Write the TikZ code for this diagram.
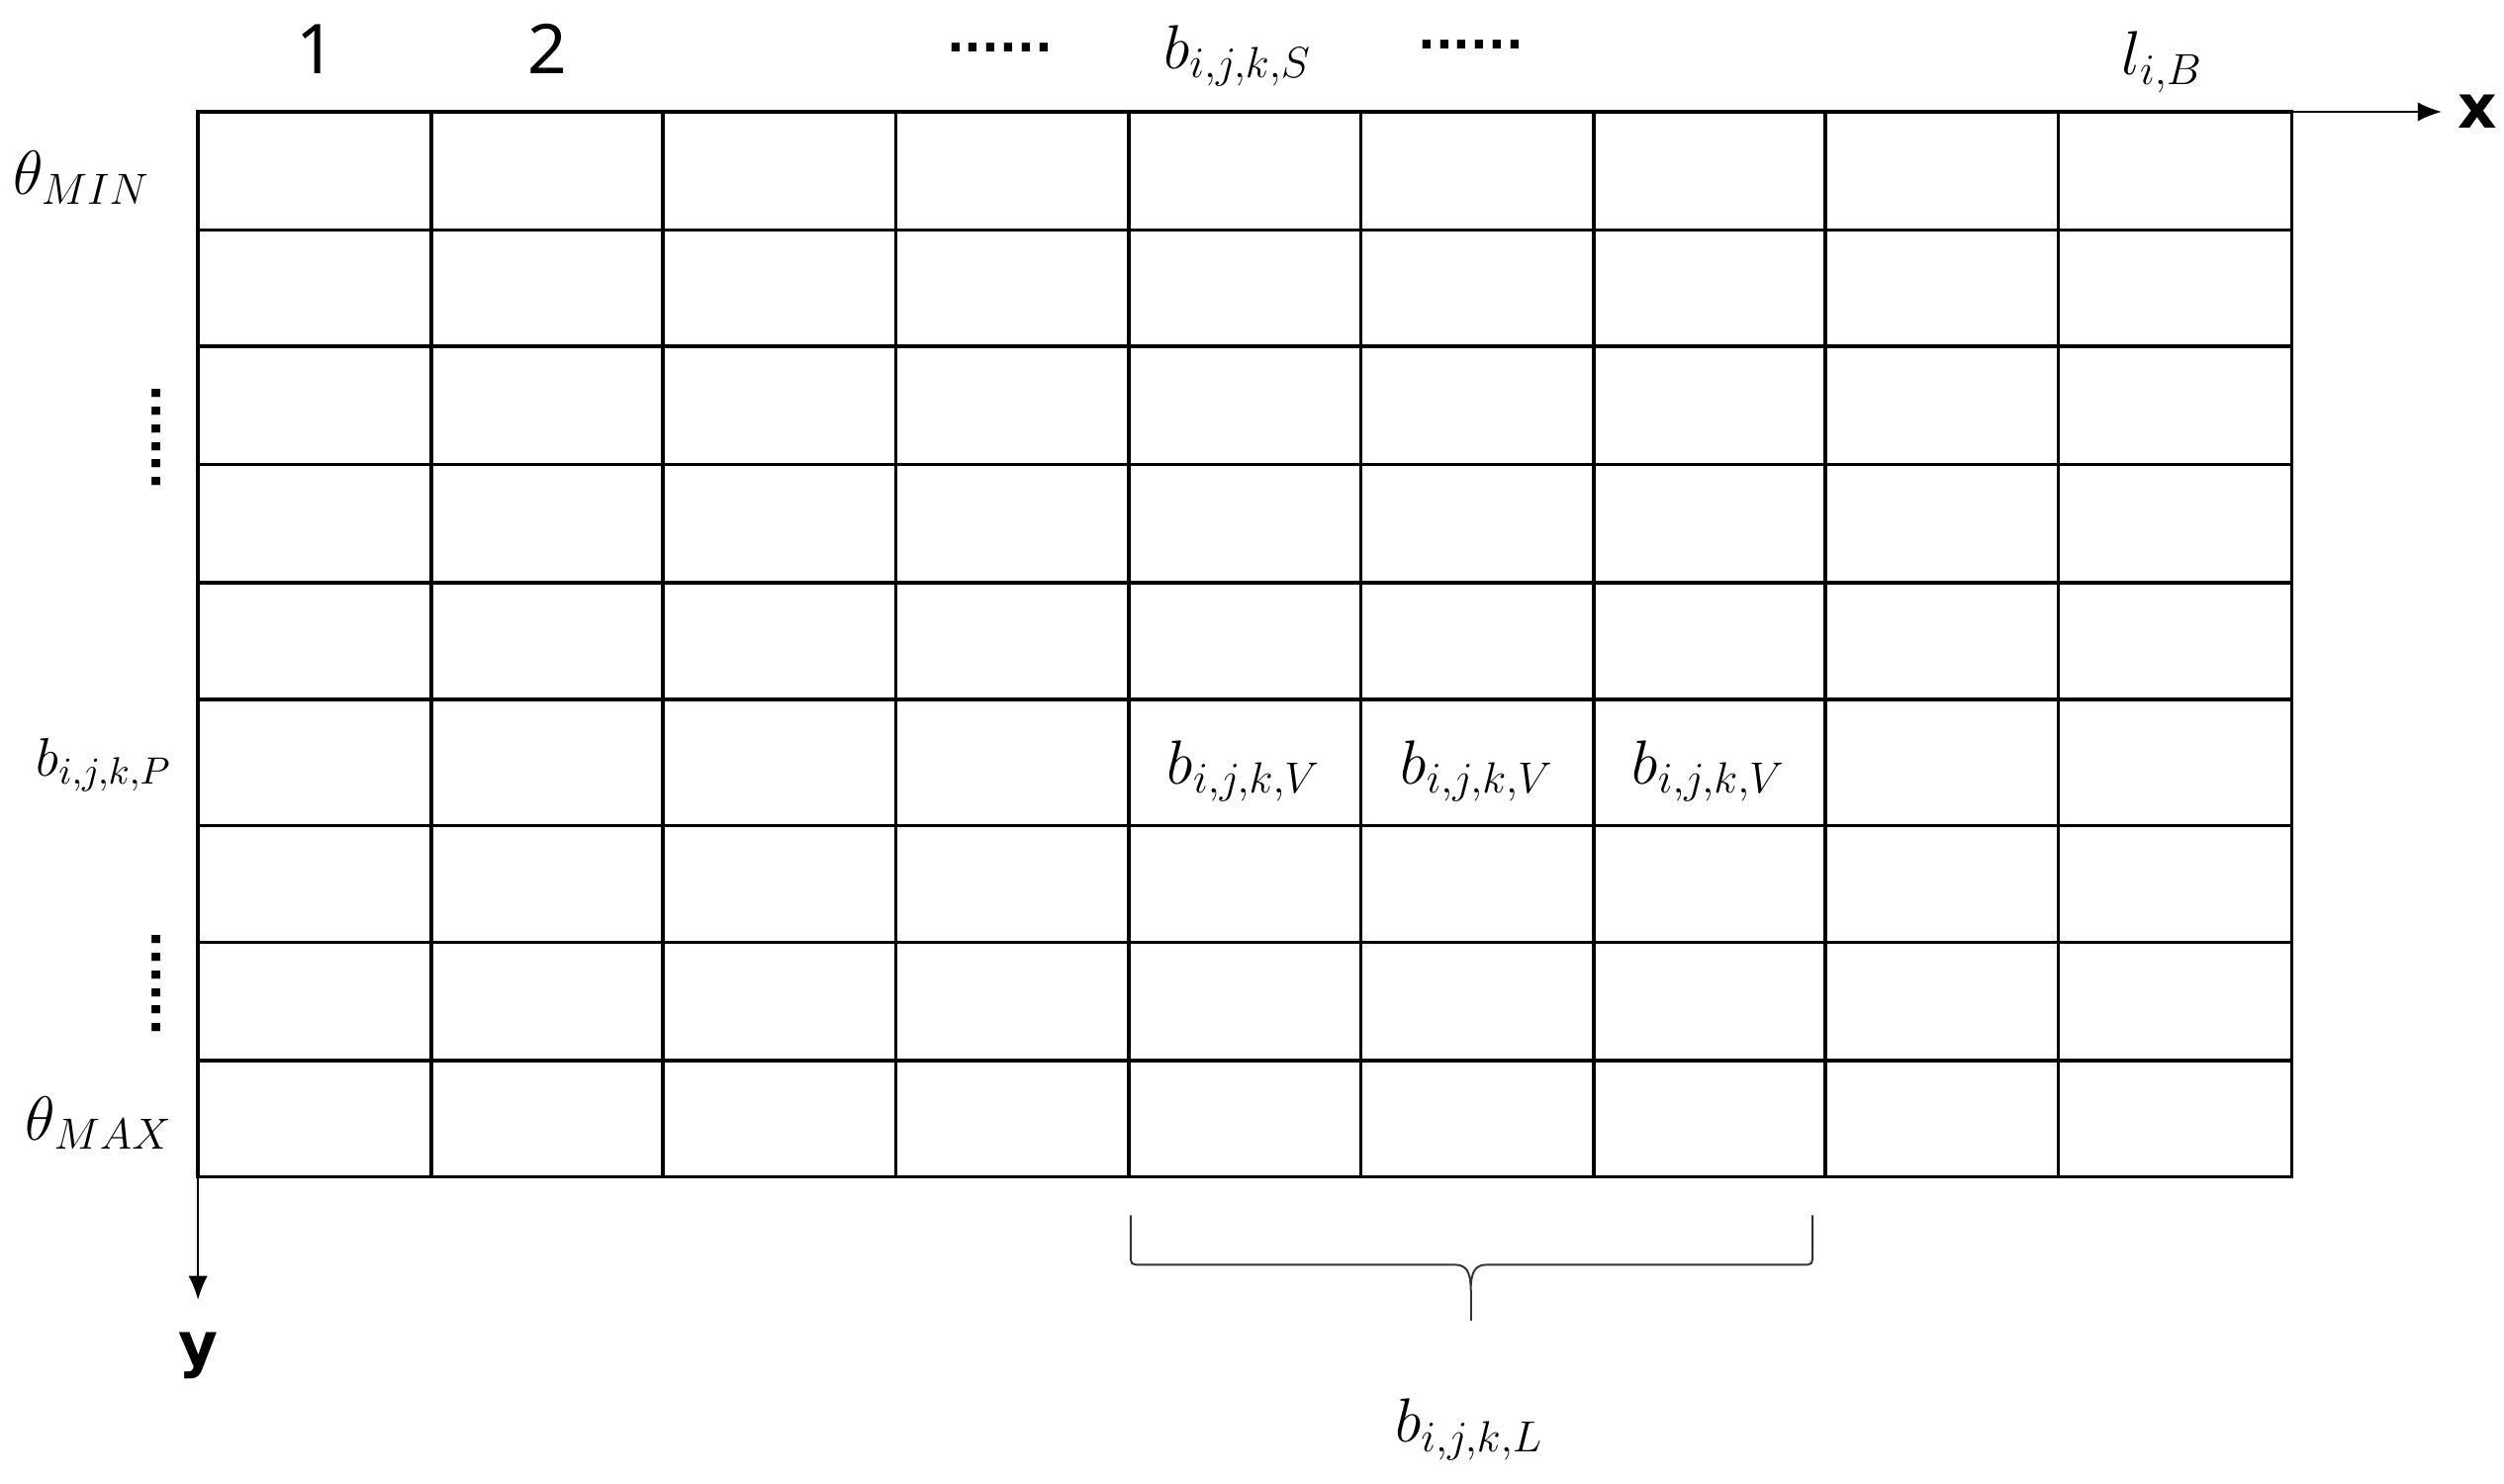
\RequirePackage{fix-cm}
\documentclass[tikz,border=0pt]{standalone}
\usepackage{amsmath}
\usepackage{fontspec}
\setsansfont{Noto Sans}
\newfontfamily\dotfont{DejaVu Sans}
\usetikzlibrary{arrows.meta,positioning}

\begin{document}
\begin{tikzpicture}[x=0.5pt,y=-0.5pt,>={Latex[length=7.5pt,width=6pt]},line cap=rect,
	cellline/.style={line width=1.1pt},
	axisline/.style={line width=0.7pt},
	braceline/.style={line width=0.6pt,black!80,line cap=butt},
	lab/.style={inner sep=0pt,anchor=base,font=\fontsize{19.5}{22}\selectfont},
	smalllab/.style={inner sep=0pt,anchor=base,font=\fontsize{17}{20}\selectfont},
	numlab/.style={inner sep=0pt,anchor=base,font=\sffamily\fontsize{21.5}{24}\selectfont},
	axlab/.style={inner sep=0pt,font=\dotfont\bfseries\fontsize{19}{24}\selectfont},
	dotlab/.style={inner sep=0pt,font=\dotfont\bfseries\fontsize{14.5}{16}\selectfont}]
	\useasboundingbox (0,0) rectangle (1568,929);
	% cells
	\foreach \gx in {124,270,415,561,707,852,998,1143,1289,1435}
		\draw[cellline] (\gx,70) -- (\gx,737);
	\foreach \gy in {70,144,217,291,365,438,517,590,664,737}
		\draw[cellline] (124,\gy) -- (1435,\gy);
	% axes
	\coordinate (O) at (124,70);
	\coordinate (xend) at (1529,70);
	\coordinate (yend) at (124,814);
	\draw[axisline,->] (O) -- (xend);
	\draw[axisline,->] (O) -- (yend);
	\node[axlab,anchor=west] [right=5pt of xend] (xlab) {x};
	\node[axlab,anchor=north] [below=10pt of yend] (ylab) {y};
	% top labels
	\node[numlab] (n1) at (198,46) {1};
	\node[numlab] (n2) at (343,46) {2};
	\node[dotlab] (dotsA) at (626,30) {......};
	\node[lab] (bS) at (775,43) {$b_{i,j,k,S}$};
	\node[dotlab] (dotsB) at (921,28) {......};
	\node[lab] (liB) at (1354,47) {$l_{i,B}$};
	% left labels
	\node[lab] (thmin) at (51,122) {$\theta_{MIN}$};
	\node[dotlab,rotate=90] (dotsC) at (98,274) {......};
	\node[smalllab] (bP) at (65,486) {$b_{i,j,k,P}$};
	\node[dotlab,rotate=90] (dotsD) at (98,616) {......};
	\node[lab] (thmax) at (62,714) {$\theta_{MAX}$};
	% cell labels
	\node[lab] (bV1) at (779,491) {$b_{i,j,k,V}$};
	\node[lab] (bV2) at (925,491) {$b_{i,j,k,V}$};
	\node[lab] (bV3) at (1070,491) {$b_{i,j,k,V}$};
	% brace
	\coordinate (tip) at (921,808);
	\draw[braceline] (708,761) -- (708,785) .. controls (708,792) .. (715,792) -- (911,792)
		.. controls (918,792) and (921,796) .. (tip)
		.. controls (921,796) and (924,792) .. (931,792) -- (1128,792)
		.. controls (1135,792) .. (1135,785) -- (1135,761);
	\draw[braceline] (tip) -- (921,827);
	\node[lab] (bL) at (920,903) {$b_{i,j,k,L}$};
\end{tikzpicture}
\end{document}
